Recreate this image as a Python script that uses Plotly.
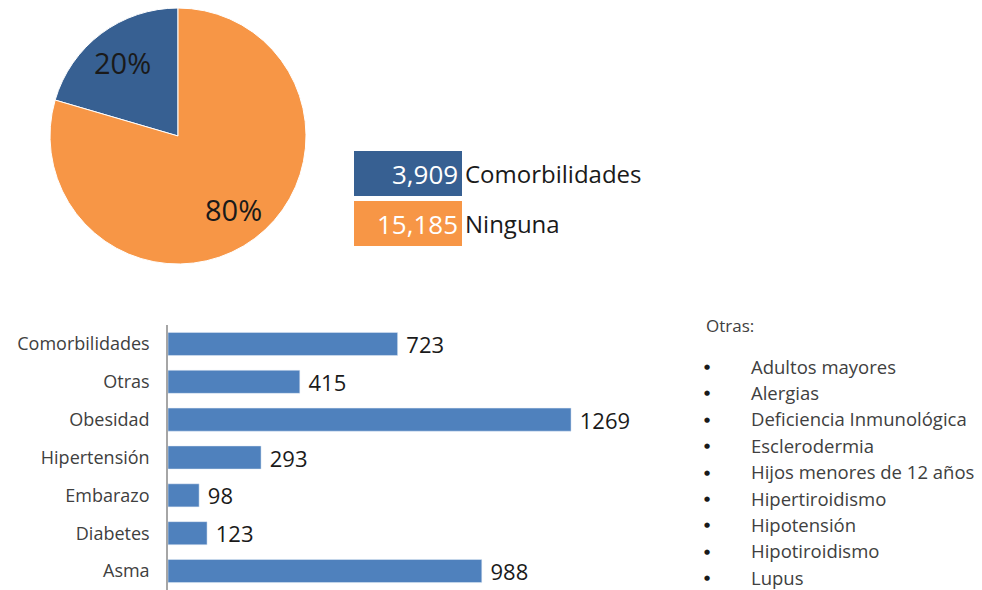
import plotly.graph_objects as go
import math

# page has an 8px body margin, so the figure is laid out in page pixels shifted by OFF
OFF = 8
W, H = 982 - OFF, 590 - OFF
FONT = "Open Sans"

# ---- data ----
pie_labels = ["Comorbilidades", "Ninguna"]
pie_values = [3909, 15185]
pie_colors = ["#376092", "#F79646"]

bar_categories = ["Comorbilidades", "Otras", "Obesidad", "Hipertensión", "Embarazo", "Diabetes", "Asma"]
bar_values = [723, 415, 1269, 293, 98, 123, 988]
bar_color = "#4F81BD"

otras_title = "Otras:"
otras_items = ["Adultos mayores", "Alergias", "Deficiencia Inmunológica", "Esclerodermia",
               "Hijos menores de 12 años", "Hipertiroidismo", "Hipotensión",
               "Hipotiroidismo", "Lupus"]


def px(x):
    return (x - OFF) / W


def py(y):
    return 1 - (y - OFF) / H


fig = go.Figure()

total = sum(pie_values)

# pie: first slice from 12 o'clock going counterclockwise
fig.add_trace(go.Pie(
    labels=pie_labels, values=pie_values, sort=False, direction="clockwise",
    rotation=-360 * pie_values[0] / total,
    marker=dict(colors=pie_colors, line=dict(color="white", width=1)),
    textinfo="none", hoverinfo="label+value+percent", showlegend=False,
    domain=dict(x=[px(50), px(306)], y=[py(264), py(8)]),
))

# pie percentage labels placed at slice mid-angles
cx, cy, r = 178, 136, 128
start = 0.0
for v in pie_values:
    frac = v / total
    mid = start + frac / 2
    ang = math.radians(90 + mid * 360)  # counterclockwise from 12 o'clock
    lx = cx + 0.72 * r * math.cos(ang)
    ly = cy - 0.72 * r * math.sin(ang)
    fig.add_annotation(x=px(lx), y=py(ly), xref="paper", yref="paper",
                       text=f"{round(frac * 100)}%", showarrow=False,
                       xanchor="center", yanchor="middle",
                       font=dict(family=FONT, size=29, color="#1a1a1a"))
    start += frac

# legend boxes
box_x0, box_x1 = 354, 462
box_tops = [151, 201]
box_h = 45
for lab, val, col, top in zip(pie_labels, pie_values, pie_colors, box_tops):
    fig.add_shape(type="rect", xref="paper", yref="paper",
                  x0=px(box_x0), x1=px(box_x1), y0=py(top + box_h), y1=py(top),
                  fillcolor=col, line=dict(width=0), layer="below")
    fig.add_annotation(x=px(box_x1 - 2), y=py(top + box_h / 2), xref="paper", yref="paper",
                       text=f"{val:,}", showarrow=False, xanchor="right", yanchor="middle",
                       font=dict(family=FONT, size=26, color="white"))
    fig.add_annotation(x=px(box_x1 + 1), y=py(top + box_h / 2), xref="paper", yref="paper",
                       text=lab, showarrow=False, xanchor="left", yanchor="middle",
                       font=dict(family=FONT, size=24, color="#1a1a1a"))

# bars
fig.add_trace(go.Bar(
    x=bar_values, y=bar_categories, orientation="h", marker=dict(color=bar_color),
    text=["\u00a0" + str(v) for v in bar_values], textposition="outside", cliponaxis=False,
    constraintext="none",
    textfont=dict(family=FONT, size=22, color="#1a1a1a"),
    xaxis="x", yaxis="y", showlegend=False,
))

fig.update_layout(
    width=W, height=H, margin=dict(l=0, r=0, t=0, b=0),
    paper_bgcolor="white", plot_bgcolor="white",
    font=dict(family=FONT),
    bargap=0.39,
    xaxis=dict(domain=[px(168), px(700)], range=[0, 1675], visible=False),
    yaxis=dict(domain=[py(590), py(325)], categoryorder="array",
               categoryarray=bar_categories[::-1], showline=True, linecolor="#A6A6A6",
               linewidth=1.5, ticks="", ticklabelstandoff=13, showgrid=False,
               tickfont=dict(family=FONT, size=18, color="#404040")),
)

# "Otras" list
fig.add_annotation(x=px(704), y=py(326), xref="paper", yref="paper", text=otras_title,
                   showarrow=False, xanchor="left", yanchor="middle",
                   font=dict(family=FONT, size=17, color="#404040"))
for i, item in enumerate(otras_items):
    yy = 366 + i * 26.4
    fig.add_annotation(x=px(707), y=py(yy + 1), xref="paper", yref="paper", text="●",
                       showarrow=False, xanchor="center", yanchor="middle",
                       font=dict(family="DejaVu Sans", size=7, color="#1a1a1a"))
    fig.add_annotation(x=px(749), y=py(yy), xref="paper", yref="paper", text=item,
                       showarrow=False, xanchor="left", yanchor="middle",
                       font=dict(family=FONT, size=18.5, color="#404040"))

fig.write_html("out.html")
